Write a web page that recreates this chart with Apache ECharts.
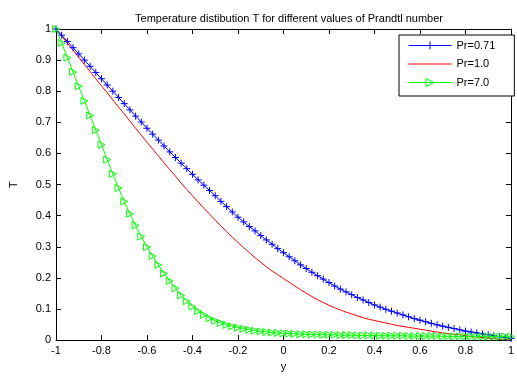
<!DOCTYPE html>
<html>
<head>
<meta charset="utf-8">
<script src="https://cdn.jsdelivr.net/npm/echarts@6/dist/echarts.min.js"></script>
<style>
  html, body { margin: 0; padding: 0; background: #fff; }
  #chart { width: 517px; height: 377px; }
</style>
</head>
<body>
<div id="chart"></div>
<script>
// y positions (step 0.025)
const yPos = [
  -1, -0.975, -0.95, -0.925, -0.9, -0.875, -0.85, -0.825, -0.8, -0.775,
  -0.75, -0.725, -0.7, -0.675, -0.65, -0.625, -0.6, -0.575, -0.55, -0.525,
  -0.5, -0.475, -0.45, -0.425, -0.4, -0.375, -0.35, -0.325, -0.3, -0.275,
  -0.25, -0.225, -0.2, -0.175, -0.15, -0.125, -0.1, -0.075, -0.05, -0.025,
  0, 0.025, 0.05, 0.075, 0.1, 0.125, 0.15, 0.175, 0.2, 0.225,
  0.25, 0.275, 0.3, 0.325, 0.35, 0.375, 0.4, 0.425, 0.45, 0.475,
  0.5, 0.525, 0.55, 0.575, 0.6, 0.625, 0.65, 0.675, 0.7, 0.725,
  0.75, 0.775, 0.8, 0.825, 0.85, 0.875, 0.9, 0.925, 0.95, 0.975, 1
];

// Pr = 0.71
const tPr071 = [
  1.000, 0.980, 0.960, 0.940, 0.920, 0.900, 0.880, 0.860, 0.840, 0.820,
  0.800, 0.780, 0.760, 0.740, 0.720, 0.701, 0.681, 0.662, 0.643, 0.624,
  0.605, 0.587, 0.569, 0.551, 0.533, 0.515, 0.498, 0.481, 0.464, 0.446,
  0.429, 0.412, 0.395, 0.380, 0.365, 0.351, 0.336, 0.322, 0.308, 0.294,
  0.281, 0.268, 0.255, 0.242, 0.230, 0.218, 0.207, 0.196, 0.185, 0.174,
  0.164, 0.155, 0.146, 0.137, 0.129, 0.121, 0.113, 0.106, 0.099, 0.093,
  0.087, 0.081, 0.075, 0.069, 0.064, 0.059, 0.054, 0.049, 0.045, 0.041,
  0.037, 0.033, 0.029, 0.026, 0.023, 0.020, 0.017, 0.014, 0.011, 0.008, 0.005
];

// Pr = 1.0
const tPr10 = [
  1.000, 0.977, 0.954, 0.932, 0.909, 0.886, 0.863, 0.840, 0.817, 0.795,
  0.772, 0.749, 0.727, 0.704, 0.681, 0.659, 0.636, 0.614, 0.592, 0.570,
  0.548, 0.527, 0.505, 0.484, 0.464, 0.444, 0.424, 0.405, 0.386, 0.367,
  0.349, 0.331, 0.314, 0.297, 0.281, 0.265, 0.250, 0.236, 0.222, 0.210,
  0.198, 0.186, 0.174, 0.162, 0.151, 0.140, 0.130, 0.121, 0.112, 0.104,
  0.097, 0.090, 0.084, 0.078, 0.072, 0.067, 0.063, 0.059, 0.055, 0.051,
  0.047, 0.044, 0.041, 0.038, 0.035, 0.032, 0.029, 0.026, 0.023, 0.021,
  0.019, 0.017, 0.014, 0.012, 0.010, 0.008, 0.006, 0.005, 0.003, 0.002, 0.000
];

// Pr = 7.0
const tPr70 = [
  1.000, 0.955, 0.908, 0.862, 0.816, 0.769, 0.722, 0.675, 0.628, 0.580,
  0.534, 0.489, 0.446, 0.406, 0.369, 0.333, 0.299, 0.270, 0.242, 0.214,
  0.190, 0.167, 0.144, 0.125, 0.108, 0.093, 0.081, 0.070, 0.062, 0.055,
  0.049, 0.044, 0.040, 0.036, 0.033, 0.030, 0.028, 0.026, 0.024, 0.023,
  0.022, 0.021, 0.020, 0.019, 0.019, 0.018, 0.018, 0.017, 0.017, 0.017,
  0.016, 0.016, 0.016, 0.015, 0.015, 0.015, 0.015, 0.014, 0.014, 0.014,
  0.014, 0.014, 0.013, 0.013, 0.013, 0.013, 0.013, 0.013, 0.012, 0.012,
  0.012, 0.012, 0.012, 0.012, 0.012, 0.011, 0.011, 0.011, 0.011, 0.011, 0.011
];

const xTicks = [-1, -0.8, -0.6, -0.4, -0.2, 0, 0.2, 0.4, 0.6, 0.8, 1];
const yTicks = [0, 0.1, 0.2, 0.3, 0.4, 0.5, 0.6, 0.7, 0.8, 0.9, 1];

const pairs = (ys) => yPos.map((x, i) => [x, ys[i]]);

const font = 'Liberation Sans, Arial, sans-serif';
const plusSym = 'path://M0,5L10,5M5,0L5,10';
const triSym = 'path://M0,0L10,5L0,10Z';
const hollow = (c) => ({ color: 'rgba(0,0,0,0)', borderColor: c, borderWidth: 1 });

const axisCommon = {
  type: 'value',
  axisLine: { onZero: false, lineStyle: { color: '#000', width: 1 } },
  axisTick: { inside: true, length: 5, lineStyle: { color: '#000' } },
  splitLine: { show: false },
};

const chart = echarts.init(document.getElementById('chart'), null, { renderer: 'canvas' });

chart.setOption({
  animation: false,
  backgroundColor: '#fff',
  title: {
    text: 'Temperature distibution T for different values of Prandtl number',
    left: 284,
    top: 8,
    textAlign: 'center',
    textStyle: { fontSize: 11, fontWeight: 'normal', color: '#000', fontFamily: font },
  },
  grid: { left: 54, right: 2, top: 29, bottom: 34 },
  legend: {
    orient: 'vertical',
    left: 399,
    top: 35,
    padding: [5, 19, 8, 9],
    itemWidth: 43,
    itemHeight: 10,
    itemGap: 7.5,
    backgroundColor: '#fff',
    borderColor: '#000',
    borderWidth: 1,
    borderRadius: 0,
    textStyle: { fontSize: 11, color: '#000', fontFamily: font },
    data: [
      { name: 'Pr=0.71', itemStyle: hollow('#0000ff'), lineStyle: { color: '#0000ff', width: 1 } },
      { name: 'Pr=1.0', itemStyle: { opacity: 0 }, lineStyle: { color: '#ff0000', width: 1 } },
      { name: 'Pr=7.0', itemStyle: hollow('#00ff00'), lineStyle: { color: '#00ff00', width: 1 } },
    ],
  },
  xAxis: [
    Object.assign({}, axisCommon, {
      position: 'bottom',
      min: xTicks[0], max: xTicks[xTicks.length - 1], interval: 0.2,
      name: 'y', nameLocation: 'middle', nameGap: 19,
      nameTextStyle: { fontSize: 11, color: '#000', fontFamily: font },
      axisLabel: { fontSize: 11, color: '#000', fontFamily: font, margin: 5,
        formatter: (v) => String(xTicks.find((t) => Math.abs(t - v) < 1e-9) ?? '') },
    }),
    Object.assign({}, axisCommon, {
      position: 'top',
      min: -1, max: 1, interval: 0.2,
      axisLabel: { show: false },
    }),
  ],
  yAxis: [
    Object.assign({}, axisCommon, {
      position: 'left',
      min: yTicks[0], max: yTicks[yTicks.length - 1], interval: 0.1,
      name: 'T', nameLocation: 'middle', nameGap: 37, nameRotate: 90,
      nameTextStyle: { fontSize: 11, color: '#000', fontFamily: font },
      axisLabel: { fontSize: 11, color: '#000', fontFamily: font, margin: 5,
        formatter: (v) => String(yTicks.find((t) => Math.abs(t - v) < 1e-9) ?? '') },
    }),
    Object.assign({}, axisCommon, {
      position: 'right',
      min: 0, max: 1, interval: 0.1,
      axisLabel: { show: false },
    }),
  ],
  series: [
    {
      name: 'Pr=0.71',
      type: 'line',
      data: pairs(tPr071),
      showAllSymbol: true,
      symbol: plusSym,
      symbolSize: 7,
      lineStyle: { color: '#0000ff', width: 1 },
      itemStyle: hollow('#0000ff'),
      z: 3,
    },
    {
      name: 'Pr=1.0',
      type: 'line',
      data: pairs(tPr10),
      symbol: 'none',
      lineStyle: { color: '#ff0000', width: 1 },
      itemStyle: { color: '#ff0000' },
      z: 2,
    },
    {
      name: 'Pr=7.0',
      type: 'line',
      data: pairs(tPr70),
      showAllSymbol: true,
      symbol: triSym,
      symbolSize: 7,
      lineStyle: { color: '#00ff00', width: 1 },
      itemStyle: hollow('#00ff00'),
      z: 4,
    },
  ],
});
</script>
</body>
</html>
